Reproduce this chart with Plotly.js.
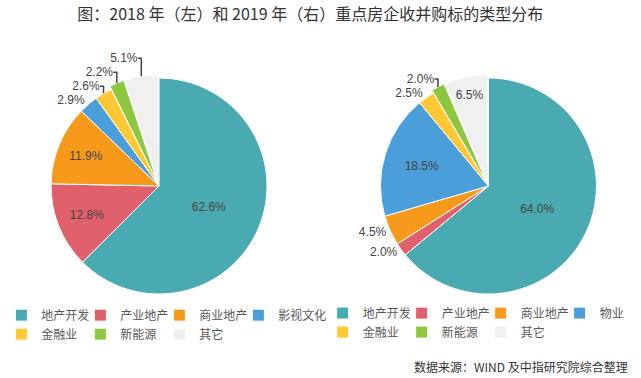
<!DOCTYPE html>
<html>
<head>
<meta charset="utf-8">
<script src="https://cdn.plot.ly/plotly-3.0.1.min.js"></script>
<style>html,body{margin:0;padding:0;background:#fff;}#chart{width:641px;height:378px;}</style>
</head>
<body>
<div id="chart"></div>
<script>
// ---- data ----
const chartTitle = '图：2018 年（左）和 2019 年（右）重点房企收并购标的类型分布';
const sourceNote = '数据来源：WIND 及中指研究院综合整理';
const leftLabels = ['地产开发', '产业地产', '商业地产', '影视文化', '金融业', '新能源', '其它'];
const leftValues = [62.6, 12.8, 11.9, 2.9, 2.6, 2.2, 5.1];
const rightLabels = ['地产开发', '产业地产', '商业地产', '物业', '金融业', '新能源', '其它'];
const rightValues = [64.0, 2.0, 4.5, 18.5, 2.5, 2.0, 6.5];

// ---- styles ----
const sliceColors = ['#4AAAB1', '#E0606B', '#F79A1C', '#4A9ED9', '#FFC834', '#8DC63F', '#F0F0F0'];
const leftTextPos = ['inside', 'inside', 'inside', 'outside', 'outside', 'outside', 'outside'];
const rightTextPos = ['inside', 'outside', 'outside', 'inside', 'outside', 'outside', 'inside'];
const pulls = [0, 0, 0, 0, 0, 0.03, 0.03];
const labelFont = {family: 'Liberation Sans, Arial, sans-serif', size: 12, color: '#444444'};

function pieTrace(labels, values, textpos, domain, legendId, group) {
  return {
    type: 'pie',
    labels: labels,
    values: values,
    sort: false,
    direction: 'clockwise',
    rotation: 0,
    pull: pulls,
    marker: {colors: sliceColors, line: {color: '#ffffff', width: 1}},
    texttemplate: '%{value:.1f}%',
    textposition: textpos,
    insidetextorientation: 'horizontal',
    insidetextfont: labelFont,
    outsidetextfont: labelFont,
    hoverinfo: 'none',
    domain: domain,
    legend: legendId,
    legendgroup: group
  };
}

const data = [
  pieTrace(leftLabels, leftValues, leftTextPos, {x: [0.0720, 0.4218], y: [0.2136, 0.8022]}, 'legend', 'y2018'),
  pieTrace(rightLabels, rightValues, rightTextPos, {x: [0.5900, 0.9398], y: [0.2136, 0.8022]}, 'legend2', 'y2019')
];

const legendCommon = {
  orientation: 'h',
  font: {family: 'Noto Sans CJK SC, sans-serif', size: 12, color: '#595959'},
  entrywidth: 34,
  entrywidthmode: 'pixels',
  bgcolor: 'rgba(0,0,0,0)',
  yanchor: 'top',
  traceorder: 'normal'
};

const layout = {
  width: 641,
  height: 378,
  paper_bgcolor: '#ffffff',
  plot_bgcolor: '#ffffff',
  margin: {l: 2, r: 3, t: 0, b: 0},
  title: {
    text: chartTitle,
    font: {family: 'Noto Sans CJK SC, sans-serif', size: 16, color: '#333333'},
    x: 0.484, xref: 'container', xanchor: 'center',
    y: 0.963, yref: 'container', yanchor: 'middle'
  },
  legend: Object.assign({}, legendCommon, {
    x: -0.001, xanchor: 'left', y: 0.215,
    title: {text: '\u3000'.repeat(112), side: 'top', font: {size: 3, color: 'rgba(0,0,0,0)'}}
  }),
  legend2: Object.assign({}, legendCommon, {x: 1.001, xanchor: 'right', y: 0.21}),
  annotations: [{
    text: sourceNote,
    xref: 'container', yref: 'container',
    x: 0.9875, xanchor: 'right',
    y: 0.03, yanchor: 'middle',
    showarrow: false,
    font: {family: 'Noto Sans CJK SC, sans-serif', size: 12, color: '#333333'}
  }]
};

Plotly.newPlot('chart', data, layout, {displayModeBar: false, staticPlot: true});
</script>
</body>
</html>
